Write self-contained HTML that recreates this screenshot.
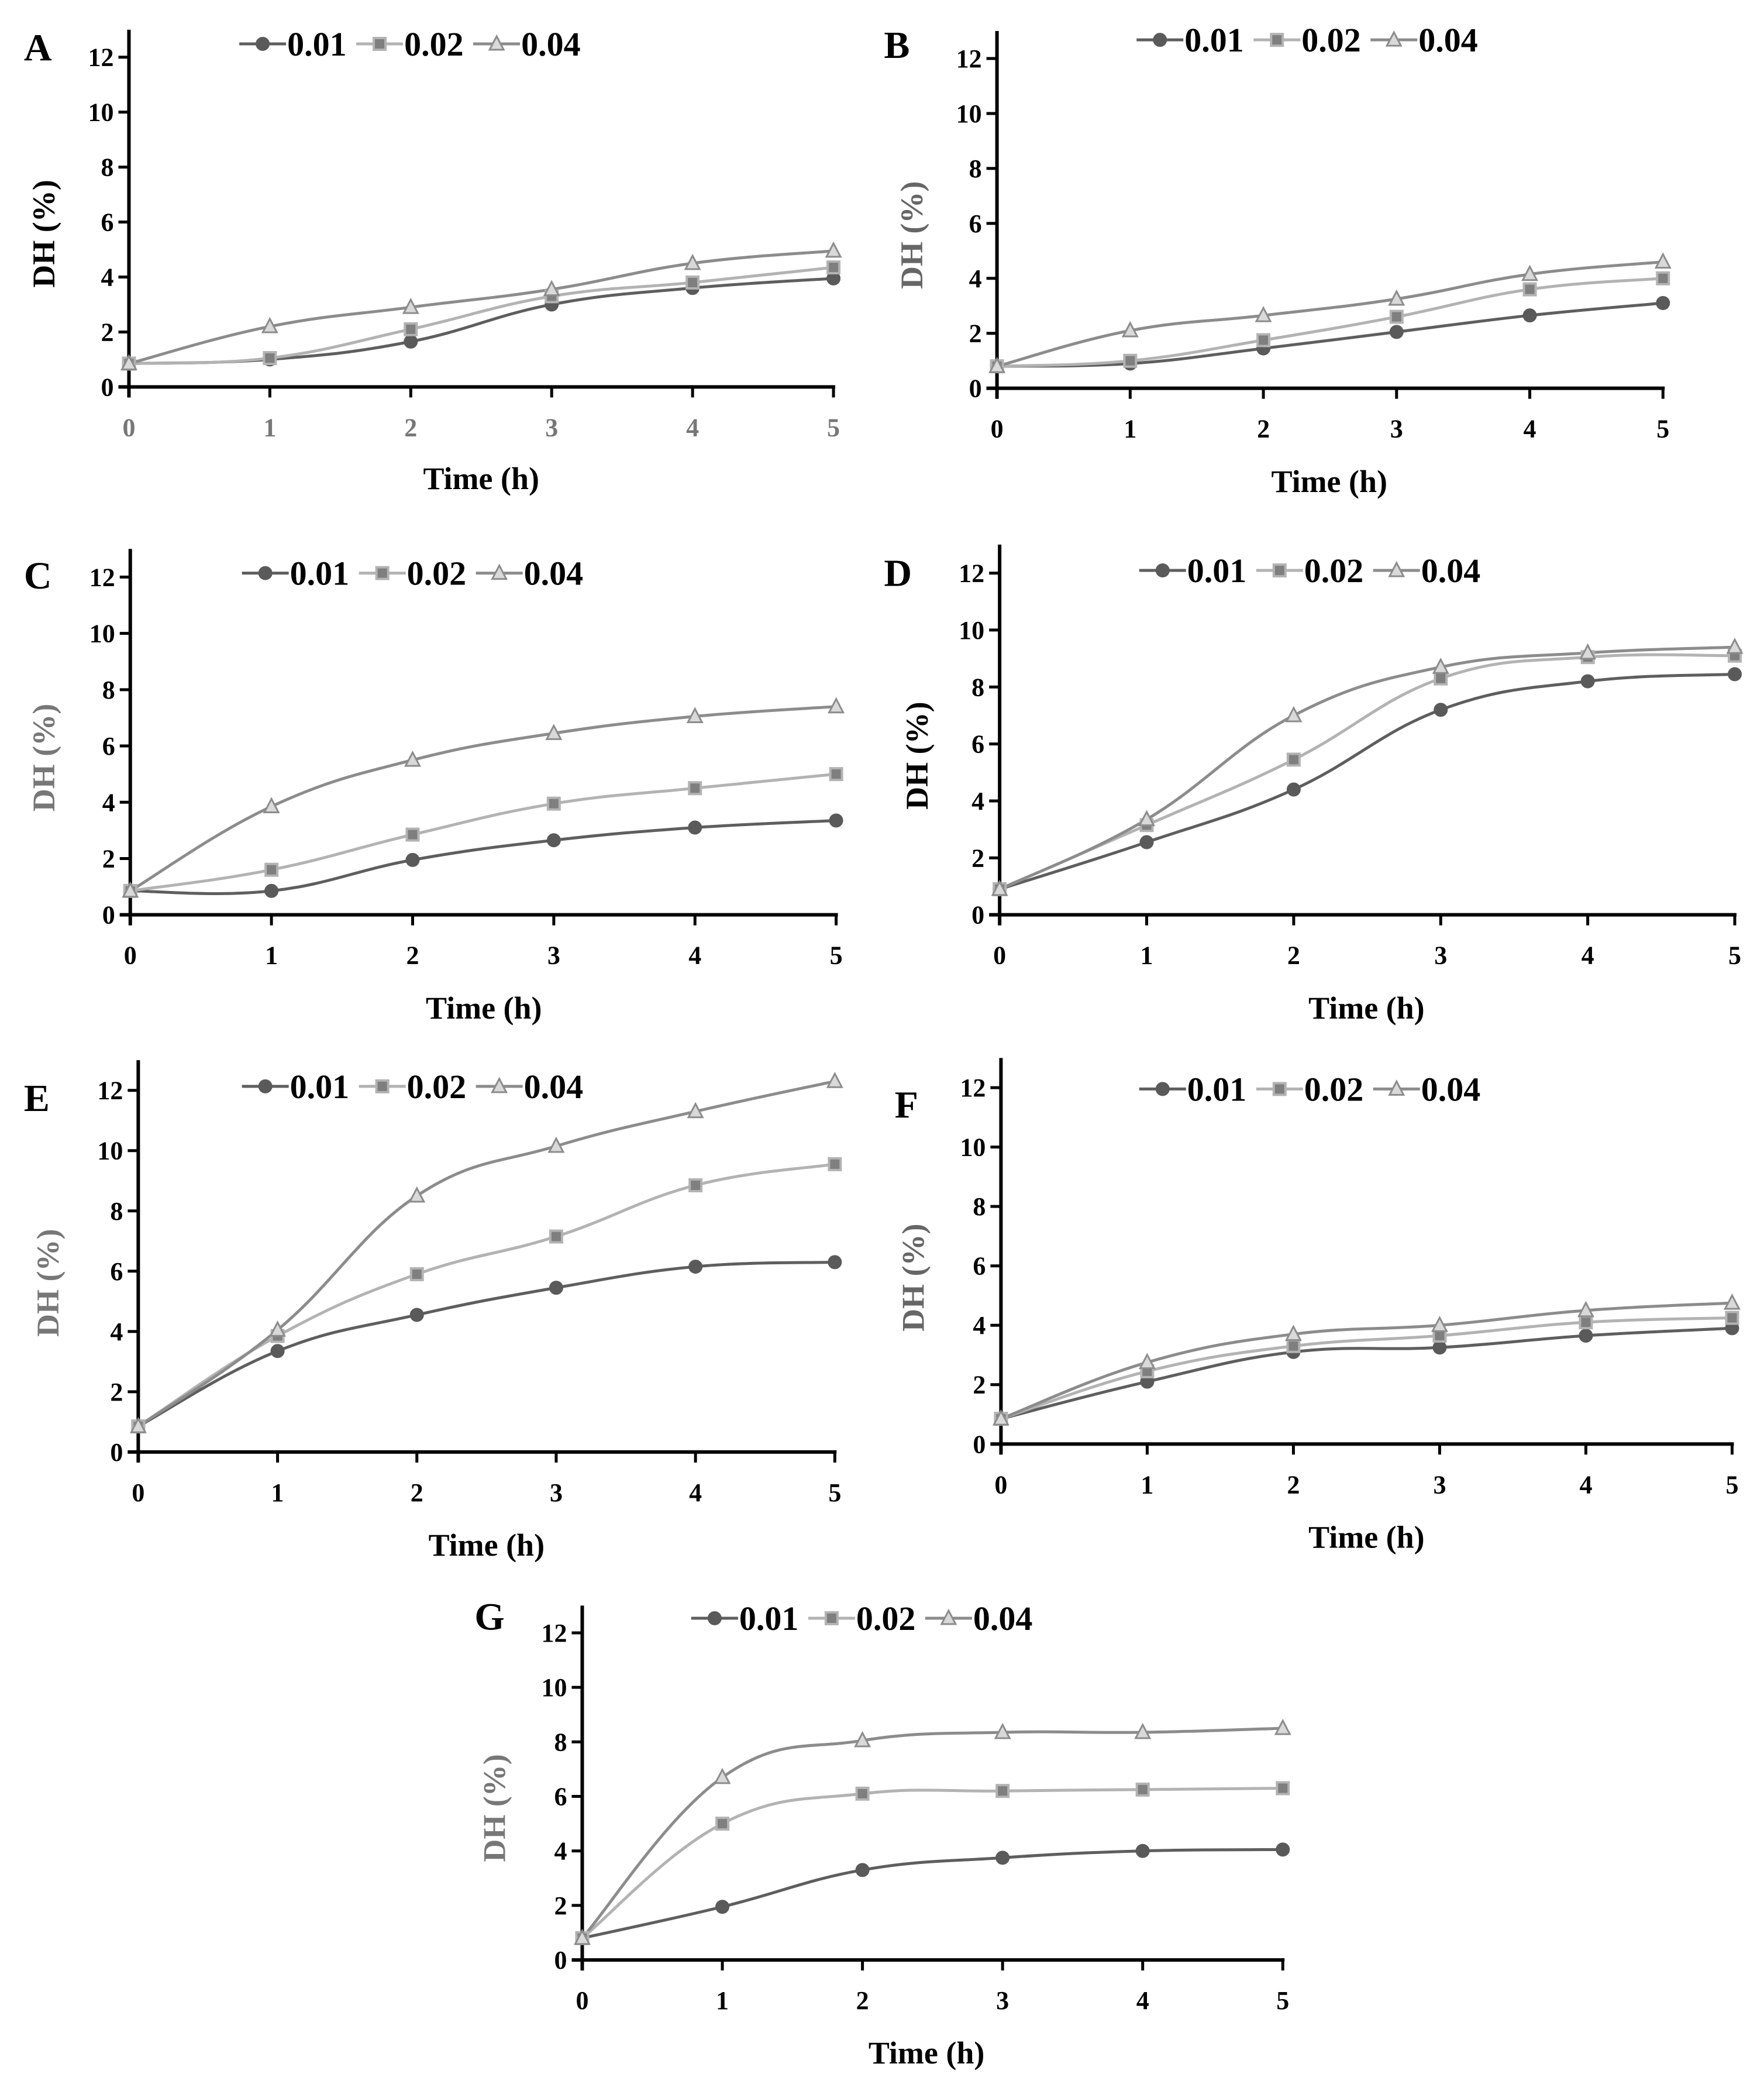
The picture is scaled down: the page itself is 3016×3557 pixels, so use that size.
<!DOCTYPE html>
<html><head><meta charset="utf-8">
<style>
html,body{margin:0;padding:0;background:#fff;}
svg{display:block;}
text{font-family:"Liberation Serif",serif;font-weight:bold;}
</style></head>
<body>
<svg id="fig" width="3016" height="3557" viewBox="0 0 3016 3557" xmlns="http://www.w3.org/2000/svg"></svg>
<script>
// ---- data ----
const timeCategories = [0, 1, 2, 3, 4, 5];
const yTickLabels = [0, 2, 4, 6, 8, 10, 12];
const seriesNames = ["0.01", "0.02", "0.04"];
const panelLetters = ["A", "B", "C", "D", "E", "F", "G"];
const A_001 = [0.85, 1.0, 1.65, 3.0, 3.6, 3.95];
const A_002 = [0.85, 1.05, 2.1, 3.3, 3.8, 4.35];
const A_004 = [0.85, 2.2, 2.9, 3.55, 4.5, 4.95];
const B_001 = [0.8, 0.9, 1.45, 2.05, 2.65, 3.1];
const B_002 = [0.8, 1.0, 1.75, 2.6, 3.6, 4.0];
const B_004 = [0.8, 2.1, 2.65, 3.25, 4.15, 4.6];
const C_001 = [0.85, 0.85, 1.95, 2.65, 3.1, 3.35];
const C_002 = [0.85, 1.6, 2.85, 3.95, 4.5, 5.0];
const C_004 = [0.85, 3.85, 5.5, 6.45, 7.05, 7.4];
const D_001 = [0.9, 2.55, 4.4, 7.2, 8.2, 8.45];
const D_002 = [0.9, 3.15, 5.45, 8.3, 9.05, 9.1];
const D_004 = [0.9, 3.35, 7.0, 8.7, 9.2, 9.4];
const E_001 = [0.85, 3.35, 4.55, 5.45, 6.15, 6.3];
const E_002 = [0.85, 3.85, 5.9, 7.15, 8.85, 9.55];
const E_004 = [0.85, 4.05, 8.5, 10.15, 11.3, 12.3];
const F_001 = [0.85, 2.1, 3.1, 3.25, 3.65, 3.9];
const F_002 = [0.85, 2.45, 3.3, 3.65, 4.1, 4.25];
const F_004 = [0.85, 2.75, 3.7, 4.0, 4.5, 4.75];
const G_001 = [0.8, 1.95, 3.3, 3.75, 4.0, 4.05];
const G_002 = [0.8, 5.0, 6.1, 6.2, 6.25, 6.3];
const G_004 = [0.8, 6.7, 8.05, 8.35, 8.35, 8.5];
const panelSeries = [
  [A_001, A_002, A_004], [B_001, B_002, B_004], [C_001, C_002, C_004],
  [D_001, D_002, D_004], [E_001, E_002, E_004], [F_001, F_002, F_004],
  [G_001, G_002, G_004]
];

// ---- layout (display coords * S) ----
const S = 3016 / 1327;
const layout = [
  {ax:97, y0:291, y12:43, x5:627, lx:18, ly:35, legx:180, legy:33, tx:362, ty:360, ylx:33, ylc:"#000", xtc:"#777"},
  {ax:750, y0:292, y12:44, x5:1251, lx:665, ly:33, legx:855, legy:30, tx:1000, ty:362, ylx:686, ylc:"#666", xtc:"#000"},
  {ax:98, y0:688, y12:434, x5:629, lx:18, ly:432, legx:182, legy:431, tx:364, ty:758, ylx:33, ylc:"#777", xtc:"#000"},
  {ax:752, y0:688, y12:431, x5:1305, lx:665, ly:430, legx:857, legy:429, tx:1028, ty:758, ylx:690, ylc:"#000", xtc:"#000"},
  {ax:104, y0:1092, y12:820, x5:628, lx:18, ly:825, legx:182, legy:817, tx:366, ty:1162, ylx:36, ylc:"#777", xtc:"#000"},
  {ax:753, y0:1086, y12:818, x5:1303, lx:673, ly:830, legx:857, legy:819, tx:1028, ty:1156, ylx:687, ylc:"#666", xtc:"#000"},
  {ax:438, y0:1474, y12:1228, x5:965, lx:357, ly:1215, legx:520, legy:1217, tx:697, ty:1544, ylx:372, ylc:"#777", xtc:"#000"}
];
const lineColors = ["#5e5e5e", "#b3b3b3", "#8c8c8c"];

const NS = "http://www.w3.org/2000/svg";
const svg = document.getElementById("fig");
function mk(tag, attrs, parent) {
  const e = document.createElementNS(NS, tag);
  for (const k in attrs) e.setAttribute(k, attrs[k]);
  parent.appendChild(e);
  return e;
}
function marker(g, kind, cx, cy) {
  let m;
  if (kind === 0) m = mk("circle", {cx:cx, cy:cy, r:11, fill:"#5a5a5a", stroke:"#5a5a5a", "stroke-width":2}, g);
  else if (kind === 1) m = mk("rect", {x:cx-10, y:cy-10, width:20, height:20, fill:"#7f7f7f", stroke:"#b3b3b3", "stroke-width":4}, g);
  else m = mk("polygon", {points:`${cx},${cy-13} ${cx+12},${cy+10} ${cx-12},${cy+10}`, fill:"#d9d9d9", stroke:"#8c8c8c", "stroke-width":3}, g);
  return m;
}
function smoothPath(pts) {
  let d = `M${pts[0][0]},${pts[0][1]}`;
  for (let i = 0; i < pts.length - 1; i++) {
    const p0 = pts[Math.max(0, i-1)], p1 = pts[i], p2 = pts[i+1], p3 = pts[Math.min(pts.length-1, i+2)];
    const t = 0.2;
    const c1 = [p1[0] + (p2[0]-p0[0])*t, p1[1] + (p2[1]-p0[1])*t];
    const c2 = [p2[0] - (p3[0]-p1[0])*t, p2[1] - (p3[1]-p1[1])*t];
    d += ` C${c1[0]},${c1[1]} ${c2[0]},${c2[1]} ${p2[0]},${p2[1]}`;
  }
  return d;
}

layout.forEach((L, pi) => {
  const g = mk("g", {}, svg);
  
  
  const ax = L.ax*S, y0 = L.y0*S, y12 = L.y12*S, x5 = L.x5*S;
  const xScale = v => ax + (x5 - ax) * v / 5;
  const yScale = v => y0 - (y0 - y12) * v / 12;

  const letter = mk("text", {x:L.lx*S, y:L.ly*S + 24, "font-size":66, "font-weight":"normal", fill:"#000"}, g);
  letter.textContent = panelLetters[pi];
  
  

  const yAxis = mk("line", {x1:ax, y1:yScale(13), x2:ax, y2:y0+18, stroke:"#000", "stroke-width":6}, g);
  
  
  const xAxis = mk("line", {x1:ax-18, y1:y0, x2:x5+3, y2:y0, stroke:"#000", "stroke-width":6}, g);
  
  

  yTickLabels.forEach(v => {
    const y = yScale(v);
    mk("line", {x1:ax-18, y1:y, x2:ax, y2:y, stroke:"#000", "stroke-width":5}, g);
    const t = mk("text", {x:ax-26, y:y+15, "font-size":44, "text-anchor":"end", fill:"#000"}, g);
    t.textContent = v;
    
    
  });
  timeCategories.forEach(v => {
    const x = xScale(v);
    mk("line", {x1:x, y1:y0, x2:x, y2:y0+18, stroke:"#000", "stroke-width":5}, g);
    const t = mk("text", {x:x, y:y0+84, "font-size":44, "text-anchor":"middle", fill:L.xtc}, g);
    t.textContent = v;
    
    
  });

  const xt = mk("text", {x:L.tx*S, y:L.ty*S + 18, "font-size":54, "text-anchor":"middle", fill:"#000"}, g);
  xt.textContent = "Time (h)";
  
  
  const ycy = (y0 + y12) / 2 + 20;
  const yt = mk("text", {x:L.ylx*S + 18, y:ycy, "font-size":54, "text-anchor":"middle", fill:L.ylc, transform:`rotate(-90 ${L.ylx*S + 18} ${ycy})`}, g);
  yt.textContent = "DH (%)";
  
  

  panelSeries[pi].forEach((vals, si) => {
    const pts = vals.map((v, i) => [xScale(timeCategories[i]), yScale(v)]);
    const p = mk("path", {d:smoothPath(pts), fill:"none", stroke:lineColors[si], "stroke-width":5}, g);
    
    
  });
  panelSeries[pi].forEach((vals, si) => {
    vals.forEach((v, i) => {
      const m = marker(g, si, xScale(timeCategories[i]), yScale(v));
      
      
    });
  });

  seriesNames.forEach((n, si) => {
    const lx = L.legx*S + si*200, ly = L.legy*S;
    const lg = mk("g", {}, g);
    
    
    mk("line", {x1:lx, y1:ly, x2:lx+80, y2:ly, stroke:lineColors[si], "stroke-width":5}, lg);
    marker(lg, si, lx+40, ly);
    const t = mk("text", {x:lx+82, y:ly+20, "font-size":58, fill:"#000"}, lg);
    t.textContent = n;
  });
});
</script>
</body></html>
